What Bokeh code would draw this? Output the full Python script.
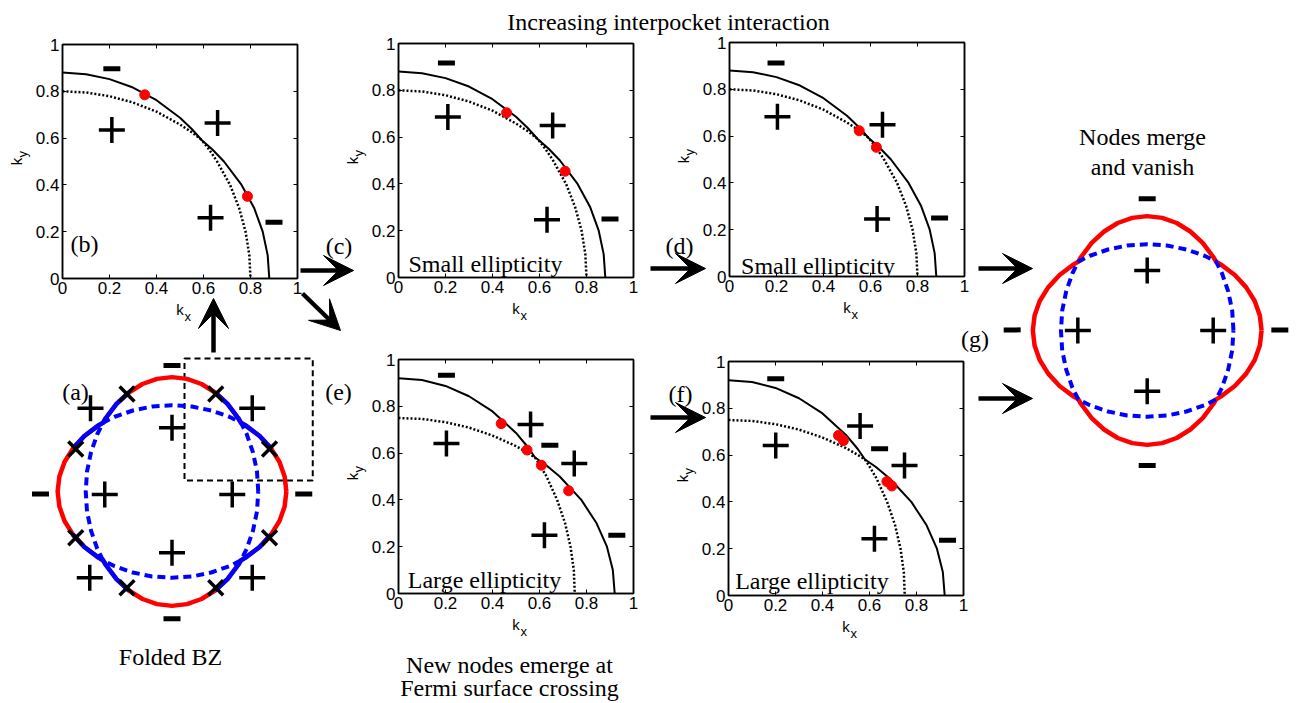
import numpy as np
from bokeh.plotting import figure
from bokeh.layouts import column
from bokeh.models import Label, Arrow, VeeHead, LinearAxis, FixedTicker, Range1d
from bokeh.embed import file_html
from bokeh.resources import INLINE

# ---------------- values ----------------
TICKS = [0, 0.2, 0.4, 0.6, 0.8, 1]
TICK_LABELS = ["0", "0.2", "0.4", "0.6", "0.8", "1"]

# small ellipticity pockets (panels b, c, d)
SMALL_SOLID_KX = [0, 0.1, 0.2, 0.3, 0.4, 0.5, 0.55, 0.592, 0.639, 0.687, 0.762, 0.816, 0.852, 0.873, 0.88]
SMALL_SOLID_KY = [0.88, 0.873, 0.852, 0.816, 0.762, 0.687, 0.639, 0.592, 0.55, 0.5, 0.4, 0.3, 0.2, 0.1, 0]
SMALL_DOTTED_KX = [0, 0.1, 0.2, 0.3, 0.4, 0.5, 0.55, 0.592, 0.625, 0.658, 0.713, 0.752, 0.779, 0.795, 0.8]
SMALL_DOTTED_KY = [0.8, 0.795, 0.779, 0.752, 0.713, 0.658, 0.625, 0.592, 0.55, 0.5, 0.4, 0.3, 0.2, 0.1, 0]
# large ellipticity pockets (panels e, f)
LARGE_SOLID_KX = [0, 0.1, 0.2, 0.3, 0.4, 0.5, 0.55, 0.581, 0.626, 0.686, 0.778, 0.843, 0.887, 0.912, 0.92]
LARGE_SOLID_KY = [0.92, 0.912, 0.887, 0.843, 0.778, 0.686, 0.626, 0.581, 0.55, 0.5, 0.4, 0.3, 0.2, 0.1, 0]
LARGE_DOTTED_KX = [0, 0.1, 0.2, 0.3, 0.4, 0.5, 0.55, 0.581, 0.601, 0.63, 0.675, 0.709, 0.732, 0.746, 0.75]
LARGE_DOTTED_KY = [0.75, 0.746, 0.732, 0.709, 0.675, 0.63, 0.601, 0.581, 0.55, 0.5, 0.4, 0.3, 0.2, 0.1, 0]

# gap-sign marks and nodes per panel
B_PLUS_X, B_PLUS_Y = [0.21, 0.66, 0.63], [0.635, 0.665, 0.26]
B_MINUS_X, B_MINUS_Y = [0.21, 0.90], [0.896, 0.24]
B_NODE_X, B_NODE_Y = [0.35, 0.787], [0.785, 0.351]

C_PLUS_X, C_PLUS_Y = [0.21, 0.656, 0.632], [0.686, 0.65, 0.247]
C_MINUS_X, C_MINUS_Y = [0.204, 0.90], [0.917, 0.25]
C_NODE_X, C_NODE_Y = [0.46, 0.709], [0.704, 0.454]

D_PLUS_X, D_PLUS_Y = [0.204, 0.651, 0.628], [0.683, 0.649, 0.246]
D_MINUS_X, D_MINUS_Y = [0.198, 0.894], [0.912, 0.25]
D_NODE_X, D_NODE_Y = [0.552, 0.625], [0.623, 0.552]

E_PLUS_X, E_PLUS_Y = [0.204, 0.562, 0.748, 0.621], [0.641, 0.722, 0.556, 0.249]
E_MINUS_X, E_MINUS_Y = [0.204, 0.644, 0.929], [0.933, 0.634, 0.249]
E_NODE_X, E_NODE_Y = [0.437, 0.547, 0.608, 0.724], [0.726, 0.613, 0.548, 0.439]

F_PLUS_X, F_PLUS_Y = [0.201, 0.56, 0.749, 0.621], [0.641, 0.724, 0.556, 0.242]
F_MINUS_X, F_MINUS_Y = [0.201, 0.643, 0.932], [0.926, 0.627, 0.236]
F_NODE_X, F_NODE_Y = [0.468, 0.489, 0.674, 0.695], [0.684, 0.662, 0.487, 0.468]

# folded BZ pockets, first quadrant (units of the k panels)
FOLD_OUTER_QX = [0.915, 0.901, 0.86, 0.792, 0.701, 0.588, 0.551, 0.529, 0.444, 0.345, 0.236, 0.12, 0.0]
FOLD_OUTER_QY = [0.0, 0.12, 0.236, 0.345, 0.444, 0.529, 0.551, 0.588, 0.701, 0.792, 0.86, 0.901, 0.915]
FOLD_BLUE_FROM, FOLD_BLUE_TO = 3, 9
FOLD_INNER_QX = [0.69, 0.68, 0.648, 0.598, 0.551, 0.458, 0.313, 0.159, 0.0]
FOLD_INNER_QY = [0.0, 0.159, 0.313, 0.458, 0.551, 0.598, 0.648, 0.68, 0.69]
A_BOX = dict(left=0.10, right=1.126, bottom=0.088, top=1.064)
A_PLUS_X = [-0.652, 0.642, 0.0, -0.538, 0.482, 0.0, -0.658, 0.642]
A_PLUS_Y = [0.666, 0.666, 0.51, -0.024, -0.024, -0.49, -0.69, -0.69]
A_MINUS_X, A_MINUS_Y = [0.0, -1.052, 1.054, 0.0], [1.008, -0.02, -0.02, -1.018]
A_NODE_X = [-0.36, 0.35, -0.77, 0.78, -0.77, 0.78, -0.36, 0.35]
A_NODE_Y = [0.78, 0.78, 0.34, 0.34, -0.37, -0.37, -0.77, -0.77]

G_PLUS_X, G_PLUS_Y = [0.0, 0.0, -0.555, 0.528], [0.48, -0.486, 0.0, 0.0]
G_MINUS_X, G_MINUS_Y = [0.0, 0.0, -1.08, 1.061], [1.054, -1.08, 0.005, 0.005]

# ---------------- helpers ----------------
SERIF = "Liberation Serif"
SANS = "Liberation Sans"
PLACED = []
BL, BR, BT, BB = 58, 6, 14, 48     # every figure shares left/right borders (column aligns them)
FW, FH = 235, 234


def place(fig, left, top):
    PLACED.append((fig, left, top))


def marks(p, px, py, mx, my, nx=None, ny=None, x_marks=False):
    p.scatter(px, py, marker="cross", size=26, line_width=3.5, line_color="black")
    p.scatter(mx, my, marker="dash", size=17, line_width=5, line_color="black")
    if nx is not None:
        if x_marks:
            p.scatter(nx, ny, marker="x", size=21, line_width=3.5, line_color="black")
        else:
            p.scatter(nx, ny, marker="circle", size=10, fill_color="red", line_color="red")


def k_panel(frame_left, frame_top, solid, dotted, plus, minus, nodes, caption=None, cap_xy=None):
    p = figure(width=FW + BL + BR, height=FH + BT + BB,
               x_range=Range1d(0, 1), y_range=Range1d(0, 1),
               output_backend="svg", toolbar_location=None,
               min_border_left=BL, min_border_right=BR, min_border_top=BT, min_border_bottom=BB,
               background_fill_color=None, border_fill_color=None,
               outline_line_color="black", outline_line_width=1.5)
    p.xgrid.grid_line_color = None
    p.ygrid.grid_line_color = None
    top_ax = LinearAxis()
    right_ax = LinearAxis()
    p.add_layout(top_ax, "above")
    p.add_layout(right_ax, "right")
    xa, ya = p.below[0], p.left[0]
    for ax in (xa, ya, top_ax, right_ax):
        ax.ticker = FixedTicker(ticks=TICKS)
        ax.major_label_overrides = dict(zip(TICKS, TICK_LABELS))
        ax.major_tick_in = 4
        ax.major_tick_out = 0
        ax.minor_tick_line_color = None
        ax.axis_line_color = "black"
        ax.axis_line_width = 1.5
        ax.major_tick_line_color = "black"
        ax.major_label_text_font = SANS
        ax.major_label_text_font_size = "17px"
        ax.major_label_text_color = "black"
        ax.major_label_standoff = 3
    for ax in (top_ax, right_ax):          # tick marks only
        ax.major_label_text_font_size = "0px"
        ax.major_label_text_color = None
    for ax, std in ((xa, 4), (ya, 8)):
        ax.axis_label = "k"
        ax.axis_label_text_font = SANS
        ax.axis_label_text_font_size = "15px"
        ax.axis_label_text_font_style = "normal"
        ax.axis_label_text_color = "black"
        ax.axis_label_standoff = std
    p.line(dotted[0], dotted[1], line_color="black", line_width=2.5, line_dash="2 2")
    p.line(solid[0], solid[1], line_color="black", line_width=2)
    marks(p, plus[0], plus[1], minus[0], minus[1], nodes[0], nodes[1])
    if caption:
        p.add_layout(Label(x=cap_xy[0], y=cap_xy[1], text=caption, text_font=SERIF,
                           text_font_size="24px", text_align="center",
                           text_baseline="alphabetic", text_color="black"))
    place(p, frame_left - BL, frame_top - BT)
    return p


def schematic(left, top, width, height, cx, cy, scale=125.0):
    """frame at pixel (left, top, width, height); data units = k units, centred at (cx, cy)"""
    p = figure(width=width + BL + BR, height=height,
               x_range=Range1d((left - cx) / scale, (left + width - cx) / scale),
               y_range=Range1d((cy - top - height) / scale, (cy - top) / scale),
               x_axis_type=None, y_axis_type=None,
               min_border_left=BL, min_border_right=BR, min_border_top=0, min_border_bottom=0,
               output_backend="svg", toolbar_location=None,
               background_fill_color=None, border_fill_color=None, outline_line_color=None)
    p.xgrid.grid_line_color = None
    p.ygrid.grid_line_color = None
    place(p, left - BL, top)
    return p


def loop(qx, qy):
    q1 = list(zip(qx, qy))
    q2 = [(-x, y) for x, y in reversed(q1)][1:]
    q3 = [(-x, -y) for x, y in q1][1:]
    q4 = [(x, -y) for x, y in reversed(q1)][1:]
    pts = q1 + q2 + q3 + q4
    return [a for a, _ in pts], [b for _, b in pts]


def mirrored_segments(sx, sy):
    xs, ys = [], []
    for fx, fy in ((1, 1), (-1, 1), (-1, -1), (1, -1)):
        xs.append([fx * v for v in sx])
        ys.append([fy * v for v in sy])
    return xs, ys


# ---------------- k-space panels ----------------
small = ((SMALL_SOLID_KX, SMALL_SOLID_KY), (SMALL_DOTTED_KX, SMALL_DOTTED_KY))
large = ((LARGE_SOLID_KX, LARGE_SOLID_KY), (LARGE_DOTTED_KX, LARGE_DOTTED_KY))
FRAMES = [(62, 44), (398, 43), (729, 42), (398, 359), (728, 361)]

k_panel(*FRAMES[0], *small, (B_PLUS_X, B_PLUS_Y), (B_MINUS_X, B_MINUS_Y), (B_NODE_X, B_NODE_Y))
k_panel(*FRAMES[1], *small, (C_PLUS_X, C_PLUS_Y), (C_MINUS_X, C_MINUS_Y), (C_NODE_X, C_NODE_Y),
        "Small ellipticity", (0.37, 0.056))
k_panel(*FRAMES[2], *small, (D_PLUS_X, D_PLUS_Y), (D_MINUS_X, D_MINUS_Y), (D_NODE_X, D_NODE_Y),
        "Small ellipticity", (0.377, 0.047))
k_panel(*FRAMES[3], *large, (E_PLUS_X, E_PLUS_Y), (E_MINUS_X, E_MINUS_Y), (E_NODE_X, E_NODE_Y),
        "Large ellipticity", (0.366, 0.059))
k_panel(*FRAMES[4], *large, (F_PLUS_X, F_PLUS_Y), (F_MINUS_X, F_MINUS_Y), (F_NODE_X, F_NODE_Y),
        "Large ellipticity", (0.355, 0.064))

# ---------------- (a) folded BZ ----------------
pa = schematic(25, 352, 305, 288, 171.5, 491)
ox, oy = loop(FOLD_OUTER_QX, FOLD_OUTER_QY)
ix, iy = loop(FOLD_INNER_QX, FOLD_INNER_QY)
pa.quad(fill_color=None, line_color="black", line_width=2, line_dash="6 4",
        **{k: [v] for k, v in A_BOX.items()})
pa.line(ox, oy, line_color="#ff0000", line_width=4.5, line_join="round")
bx, by = mirrored_segments(FOLD_OUTER_QX[FOLD_BLUE_FROM:FOLD_BLUE_TO + 1],
                           FOLD_OUTER_QY[FOLD_BLUE_FROM:FOLD_BLUE_TO + 1])
pa.multi_line(bx, by, line_color="#0000ff", line_width=4.5, line_join="round")
pa.line(ix, iy, line_color="#0000ff", line_width=4, line_dash="8 5")
marks(pa, A_PLUS_X, A_PLUS_Y, A_MINUS_X, A_MINUS_Y, A_NODE_X, A_NODE_Y, x_marks=True)

# ---------------- (g) merged nodes ----------------
pg = schematic(985, 180, 1298 - BR - 985, 310, 1146.7, 330)
pg.line(ox, oy, line_color="#ff0000", line_width=4.5, line_join="round")
pg.line(ix, iy, line_color="#0000ff", line_width=4, line_dash="8 5")
marks(pg, G_PLUS_X, G_PLUS_Y, G_MINUS_X, G_MINUS_Y)

# ---------------- overlay: arrows and texts (pixel coordinates) ----------------
OV_W = 1298 - BL - BR        # overlay canvas starts at -BL so its frame starts at page x = 0
bg = figure(width=1298, height=703, x_range=Range1d(0, OV_W), y_range=Range1d(703, 0),
            x_axis_type=None, y_axis_type=None,
            min_border_left=BL, min_border_right=BR, min_border_top=0, min_border_bottom=0,
            output_backend="svg", toolbar_location=None,
            background_fill_color=None, border_fill_color=None, outline_line_color=None)
bg.xgrid.grid_line_color = None
bg.ygrid.grid_line_color = None

ARROWS = [((213, 352), (213, 298)), ((300, 270), (353, 270)), ((302, 293), (340, 330)),
          ((650, 268), (705, 268)), ((650, 417), (705, 417)),
          ((978, 268), (1032, 268)), ((978, 398), (1032, 398))]
for (x0, y0), (x1, y1) in ARROWS:
    bg.add_layout(Arrow(end=VeeHead(size=30, fill_color="black", line_color="black", line_width=1),
                        x_start=x0, y_start=y0, x_end=x1, y_end=y1,
                        line_color="black", line_width=4.5))

TEXTS = [("Increasing interpocket interaction", 668, 21),
         ("Nodes merge", 1142, 136), ("and vanish", 1142, 166),
         ("Folded BZ", 170, 656),
         ("New nodes emerge at", 509, 664), ("Fermi surface crossing", 509, 687),
         ("(a)", 75, 391.5), ("(b)", 84, 243), ("(c)", 338.5, 245), ("(d)", 679, 245),
         ("(e)", 338, 391.5), ("(f)", 680, 393), ("(g)", 974.5, 338)]
for txt, x, y in TEXTS:
    bg.add_layout(Label(x=x, y=y, text=txt, text_font=SERIF, text_font_size="24px",
                        text_align="center", text_baseline="alphabetic", text_color="black"))

# subscripts of the k axis labels
for L, T in FRAMES:
    bg.add_layout(Label(x=L + 122, y=T + FH + 38, text="x", text_font=SANS, text_font_size="13px",
                        text_align="left", text_baseline="middle", text_color="black"))
    bg.add_layout(Label(x=L - 40.5, y=T + 113, text="y", angle=np.pi / 2, text_font=SANS,
                        text_font_size="13px", text_align="left", text_baseline="middle",
                        text_color="black"))
place(bg, -BL, 0)

# ---------------- absolute placement via margins ----------------
children = []
cursor = 0
for fig, left, top in PLACED:
    fig.margin = (top - cursor, 0, 0, left)
    cursor = top + fig.height
    children.append(fig)

root = column(*children, spacing=0)
open("out.html", "w").write(file_html(root, INLINE))
